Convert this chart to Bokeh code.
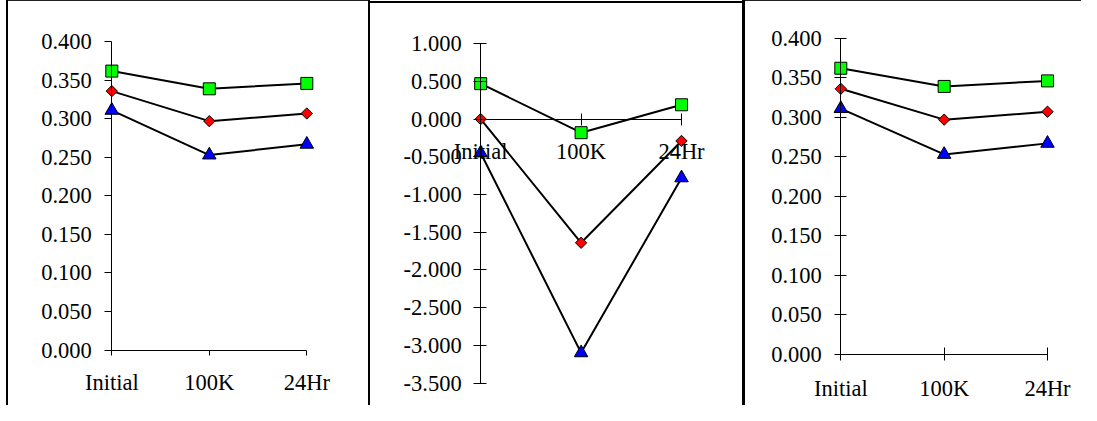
import numpy as np
from bokeh.plotting import figure
from bokeh.models import Range1d, LinearAxis, FixedTicker, PrintfTickFormatter, Div, ColumnDataSource
from bokeh.layouts import row, column
from bokeh.embed import file_html
from bokeh.resources import INLINE

# ---------------- data ----------------
categories = ["Initial", "100K", "24Hr"]
x_pos = [0, 1, 2]

# left and right panels (same values)
square_a = [0.362, 0.339, 0.346]
diamond_a = [0.336, 0.297, 0.307]
triangle_a = [0.311, 0.253, 0.267]

# middle panel
square_b = [0.47, -0.18, 0.19]
diamond_b = [0.00, -1.64, -0.29]
triangle_b = [-0.45, -3.10, -0.78]

yticks_a = [0.0, 0.05, 0.10, 0.15, 0.20, 0.25, 0.30, 0.35, 0.40]
yticks_b = [1.0, 0.5, 0.0, -0.5, -1.0, -1.5, -2.0, -2.5, -3.0, -3.5]

FONT = "'Liberation Serif', 'Times New Roman', serif"
FSIZE = "22.5px"


def lin_range(d0, s0, d1, s1, frame_start, frame_len):
    k = (s1 - s0) / (d1 - d0)
    a = d0 + (frame_start - s0) / k
    b = d0 + (frame_start + frame_len - s0) / k
    return Range1d(min(a, b), max(a, b))


def make_panel(width, height, xr, yr, series, yticks, ybounds, ytick, xtick):
    p = figure(width=width, height=height, x_range=xr, y_range=yr,
               toolbar_location=None, output_backend="svg",
               x_axis_type=None, y_axis_type=None, min_border=0,
               outline_line_color=None, background_fill_color="white",
               border_fill_color="white")
    sq, di, tr = series
    for vals, marker, color, size, angle in [
        (tr, "triangle", "#0000FF", 13.5, 0.0),
        (di, "square", "#FF0000", 8, np.pi / 4),
        (sq, "square", "#00FF00", 12, 0.0),
    ]:
        src = ColumnDataSource(dict(x=x_pos, y=vals))
        p.line("x", "y", source=src, line_color="black", line_width=2)
        p.scatter("x", "y", source=src, marker=marker, size=size, angle=angle,
                  fill_color=color, line_color="black", line_width=1)

    yaxis = LinearAxis(fixed_location=0, bounds=ybounds,
                       ticker=FixedTicker(ticks=yticks),
                       formatter=PrintfTickFormatter(format="%.3f"))
    yaxis.major_tick_in, yaxis.major_tick_out, yaxis.major_label_standoff = ytick
    xaxis = LinearAxis(fixed_location=0, bounds=(0, 2),
                       ticker=FixedTicker(ticks=x_pos),
                       major_label_overrides={i: c for i, c in zip(x_pos, categories)})
    xaxis.major_tick_in, xaxis.major_tick_out, xaxis.major_label_standoff = xtick
    for ax in (xaxis, yaxis):
        ax.axis_line_color = "black"
        ax.axis_line_width = 1
        ax.major_tick_line_color = "black"
        ax.minor_tick_line_color = None
        ax.major_label_text_font = FONT
        ax.major_label_text_font_size = FSIZE
        ax.major_label_text_color = "black"
    p.add_layout(yaxis, "left")
    p.add_layout(xaxis, "below")
    return p


H = 405

p1 = make_panel(360, 404,
                lin_range(0, 111.3, 2, 306.3, 8, 360),
                lin_range(0.4, 41.3, 0.0, 349.5, 1, 404),
                (square_a, diamond_a, triangle_a), yticks_a, (0, 0.4),
                (0, 7, 13), (0, 5, 15))

p2 = make_panel(372, 402,
                lin_range(0, 480.2, 2, 681.0, 370, 372),
                lin_range(1.0, 43.2, -3.5, 382.5, 3, 402),
                (square_b, diamond_b, triangle_b), yticks_b, (-3.5, 1.0),
                (6, 7, 12), (6, 6, 14))

p3 = make_panel(336, 404,
                lin_range(0, 840.3, 2, 1047.0, 745, 336),
                lin_range(0.4, 37.7, 0.0, 354.0, 1, 404),
                (square_a, diamond_a, triangle_a), yticks_a, (0, 0.4),
                (6, 6, 13), (7, 6, 15))


def bar(w, h, color="#000000"):
    return Div(text="", width=w, height=h, margin=0,
               styles={"background-color": color})


layout = row(
    bar(6, H, "#ffffff"),
    bar(2, H),
    column(bar(360, 1, "#222222"), p1, spacing=0),
    bar(2, H),
    column(bar(372, 1, "#ffffff"), bar(372, 2), p2, spacing=0),
    bar(3, H),
    column(bar(336, 1, "#222222"), p3, spacing=0),
    spacing=0,
)

open("out.html", "w").write(file_html(layout, INLINE))
